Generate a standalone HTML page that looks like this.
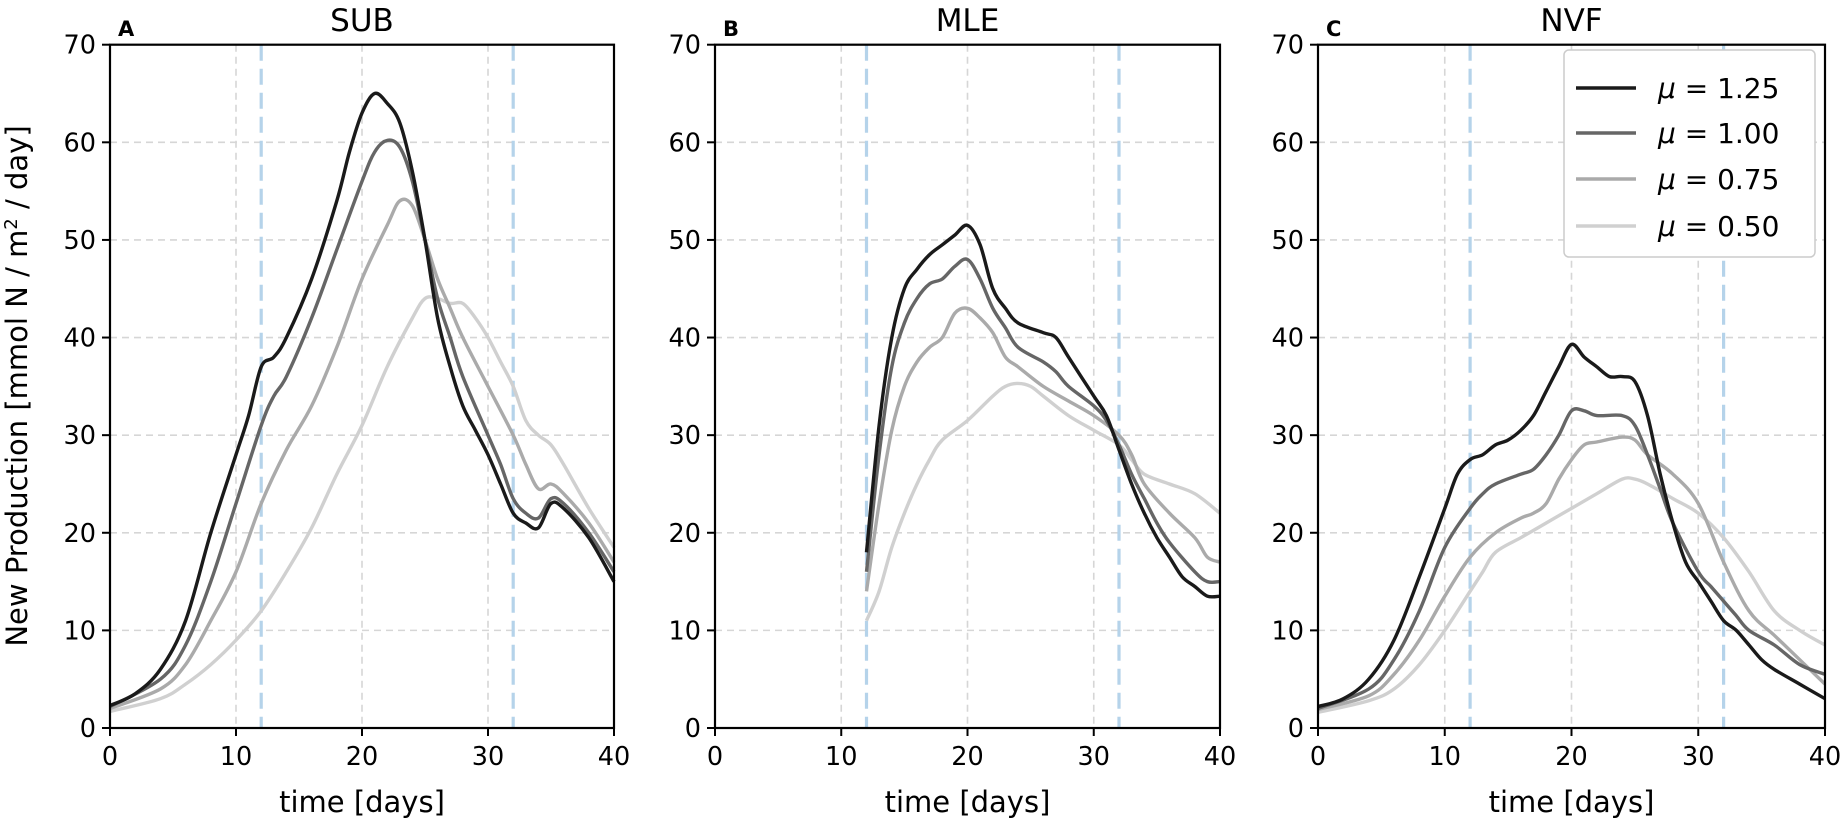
<!DOCTYPE html>
<html><head><meta charset="utf-8"><style>
body{margin:0;background:#fff;}
svg{display:block;font-family:"DejaVu Sans","Liberation Sans",sans-serif;}
</style></head><body>
<svg id="s" width="1842" height="821" xmlns="http://www.w3.org/2000/svg"></svg>
<script>
const S=document.getElementById('s');
const Y0=728,Y70=44.7,ky=(Y0-Y70)/70;
const panels=[
 {l:110,r:614,t:'SUB',lab:'A',d:[
  [[0,2.3],[2,3.5],[4,6],[6,11],[8,20],[10,28],[11,32],[12,37],[13,38],[14,40],[16,46],[18,54],[19,59],[20,63],[21,65],[22,64],[23,62],[24,57],[25,50],[26,42],[27,37],[28,33],[29,30.5],[30,28],[31,25],[32,22],[33,21],[34,20.5],[35,23],[36,22.5],[38,19.5],[40,15]],
  [[0,2.2],[4,5],[6,8.5],[8,15],[10,23],[12,31],[13,34],[14,36],[16,42],[18,49],[20,56],[21,59],[22,60.2],[23,59.5],[24,56],[25,50],[26,44],[27,40],[28,36],[30,30],[31,27],[32,23.5],[33,22],[34,21.5],[35,23.5],[36,23],[38,20],[40,16]],
  [[0,2],[4,4],[6,6.5],[8,11],[10,16],[12,23],[14,28.5],[16,33],[18,39],[20,46],[22,51.5],[23,54],[24,53.5],[25,50],[26,46],[27,43],[28,40],[30,35],[32,30],[33,27],[34,24.5],[35,25],[36,24],[38,21],[40,17]],
  [[0,1.7],[4,3],[6,4.5],[8,6.5],[10,9],[12,12],[14,16],[16,20.5],[18,26],[20,31],[22,37],[24,42],[25,44],[26,44],[27,43.5],[28,43.5],[29,42],[30,40],[31,37.5],[32,35],[33,31.5],[34,30],[35,29],[36,27],[38,22.5],[40,18.5]]]},
 {l:715,r:1220,t:'MLE',lab:'B',d:[
  [[12,18],[13,31],[14,40],[15,45],[16,47],[17,48.5],[18,49.5],[19,50.5],[20,51.5],[21,49.5],[22,45],[23,43],[24,41.5],[26,40.5],[27,40],[28,38],[30,34],[31,32],[32,28.5],[33,25],[34,22],[35,19.5],[36,17.5],[37,15.5],[38,14.5],[39,13.5],[40,13.5]],
  [[12,16],[13,28],[14,37],[15,41.5],[16,44],[17,45.5],[18,46],[19,47.3],[20,48],[21,46],[22,43],[23,41],[24,39],[26,37.5],[27,36.5],[28,35],[30,33],[31,31.5],[32,29],[33,26],[34,23.5],[35,21],[36,19],[38,16],[39,15],[40,15]],
  [[12,14],[13,23],[14,30.5],[15,35],[16,37.5],[17,39],[18,40],[19,42.5],[20,43],[21,42],[22,40.5],[23,38],[24,37],[26,35],[28,33.5],[30,32],[32,30],[33,28],[34,25],[36,22],[38,19.5],[39,17.5],[40,17]],
  [[12,11],[13,14],[14,18.5],[15,22],[16,25],[17,27.5],[18,29.5],[20,31.5],[22,34],[23,35],[24,35.3],[25,35],[26,34],[28,32],[30,30.5],[32,29],[33,27.5],[34,26],[36,25],[38,24],[40,22]]]},
 {l:1318,r:1825,t:'NVF',lab:'C',d:[
  [[0,2.2],[2,3],[4,5],[6,9],[8,15.5],[10,22.5],[11,26],[12,27.5],[13,28],[14,29],[15,29.5],[16,30.5],[17,32],[18,34.5],[19,37],[20,39.3],[21,38],[22,37],[23,36],[24,36],[25,35.5],[26,32],[27,26],[28,21],[29,17],[30,15],[31,13],[32,11],[33,10],[34,8.5],[35,7],[36,6],[38,4.5],[40,3]],
  [[0,2],[4,4],[6,7],[8,12],[10,18.5],[12,22.5],[13,24],[14,25],[16,26],[17,26.5],[18,28],[19,30],[20,32.5],[21,32.5],[22,32],[24,32],[25,31],[26,28],[27,24.5],[28,21],[30,16],[31,14.5],[32,13],[33,11.5],[34,10],[36,8.5],[38,6.5],[40,5.5]],
  [[0,1.9],[4,3.3],[6,5.5],[8,9],[10,13.5],[12,17.5],[14,20],[16,21.5],[17,22],[18,23],[19,25.5],[20,27.5],[21,29],[22,29.3],[24,29.8],[25,29.5],[26,28],[28,26],[30,23],[32,17],[34,12],[36,9.5],[38,7],[40,4.5]],
  [[0,1.6],[4,2.8],[6,4],[8,6.5],[10,10],[12,14],[13,16],[14,18],[16,19.5],[18,21],[20,22.5],[22,24],[24,25.5],[25,25.5],[26,25],[28,23.5],[30,22],[32,19.5],[34,16],[36,12],[38,10],[40,8.5]]]}
];
const cols=['#1a1a1a','#666666','#aaaaaa','#d0d0d0'];
let h='';
function Y(v){return Y0-v*ky;}
panels.forEach(p=>{
 const X=d=>p.l+(p.r-p.l)*d/40;
 for(let d=10;d<=30;d+=10)h+=`<line x1="${X(d)}" y1="${Y70}" x2="${X(d)}" y2="${Y0}" stroke="#d6d6d6" stroke-width="1.6" stroke-dasharray="7,5"/>`;
 for(let v=10;v<=60;v+=10)h+=`<line x1="${p.l}" y1="${Y(v)}" x2="${p.r}" y2="${Y(v)}" stroke="#d6d6d6" stroke-width="1.6" stroke-dasharray="7,5"/>`;
 [12,32].forEach(d=>h+=`<line x1="${X(d)}" y1="${Y70}" x2="${X(d)}" y2="${Y0}" stroke="#b5d3ea" stroke-width="3.2" stroke-dasharray="16,8"/>`);
 for(let i=3;i>=0;i--){
  const pts=p.d[i].map(a=>[X(a[0]),Y(a[1])]);
  let s=`M${pts[0][0]},${pts[0][1]}`;
  for(let k=0;k<pts.length-1;k++){
   const p0=pts[Math.max(k-1,0)],p1=pts[k],p2=pts[k+1],p3=pts[Math.min(k+2,pts.length-1)];
   const c1=[p1[0]+(p2[0]-p0[0])/6,p1[1]+(p2[1]-p0[1])/6],c2=[p2[0]-(p3[0]-p1[0])/6,p2[1]-(p3[1]-p1[1])/6];
   s+=`C${c1[0].toFixed(1)},${c1[1].toFixed(1)} ${c2[0].toFixed(1)},${c2[1].toFixed(1)} ${p2[0].toFixed(1)},${p2[1].toFixed(1)}`;
  }
  h+=`<path d="${s}" fill="none" stroke="${cols[i]}" stroke-width="3.4" stroke-linejoin="round"/>`;
 }
 h+=`<rect x="${p.l}" y="${Y70}" width="${p.r-p.l}" height="${Y0-Y70}" fill="none" stroke="#000" stroke-width="2.2"/>`;
 for(let v=0;v<=70;v+=10){h+=`<line x1="${p.l-8}" y1="${Y(v)}" x2="${p.l}" y2="${Y(v)}" stroke="#000" stroke-width="2"/><text x="${p.l-14}" y="${Y(v)+9}" font-size="25.5" text-anchor="end">${v}</text>`;}
 for(let d=0;d<=40;d+=10){h+=`<line x1="${X(d)}" y1="${Y0}" x2="${X(d)}" y2="${Y0+8}" stroke="#000" stroke-width="2"/><text x="${X(d)}" y="${Y0+37}" font-size="25.5" text-anchor="middle">${d}</text>`;}
 h+=`<text x="${(p.l+p.r)/2}" y="${Y0+84}" font-size="29" text-anchor="middle">time [days]</text>`;
 h+=`<text x="${(p.l+p.r)/2}" y="31" font-size="31" text-anchor="middle">${p.t}</text>`;
 h+=`<text x="${p.l+8}" y="36" font-size="21" font-weight="bold">${p.lab}</text>`;
});
h+=`<text transform="translate(27,386) rotate(-90)" font-size="29" text-anchor="middle">New Production [mmol N / m<tspan font-size="18" dy="-10">2</tspan><tspan dy="10"> / day]</tspan></text>`;
h+=`<rect x="1564" y="50" width="251" height="207" rx="5" fill="#fff" stroke="#cccccc" stroke-width="1.5"/>`;
const lab=['1.25','1.00','0.75','0.50'];
[88,133,179,226].forEach((y,i)=>{h+=`<line x1="1576" y1="${y}" x2="1636" y2="${y}" stroke="${cols[i]}" stroke-width="3.4"/><text x="1658" y="${y+10}" font-size="28"><tspan font-style="italic">μ</tspan> = ${lab[i]}</text>`;});
S.innerHTML=h;
</script>
</body></html>
